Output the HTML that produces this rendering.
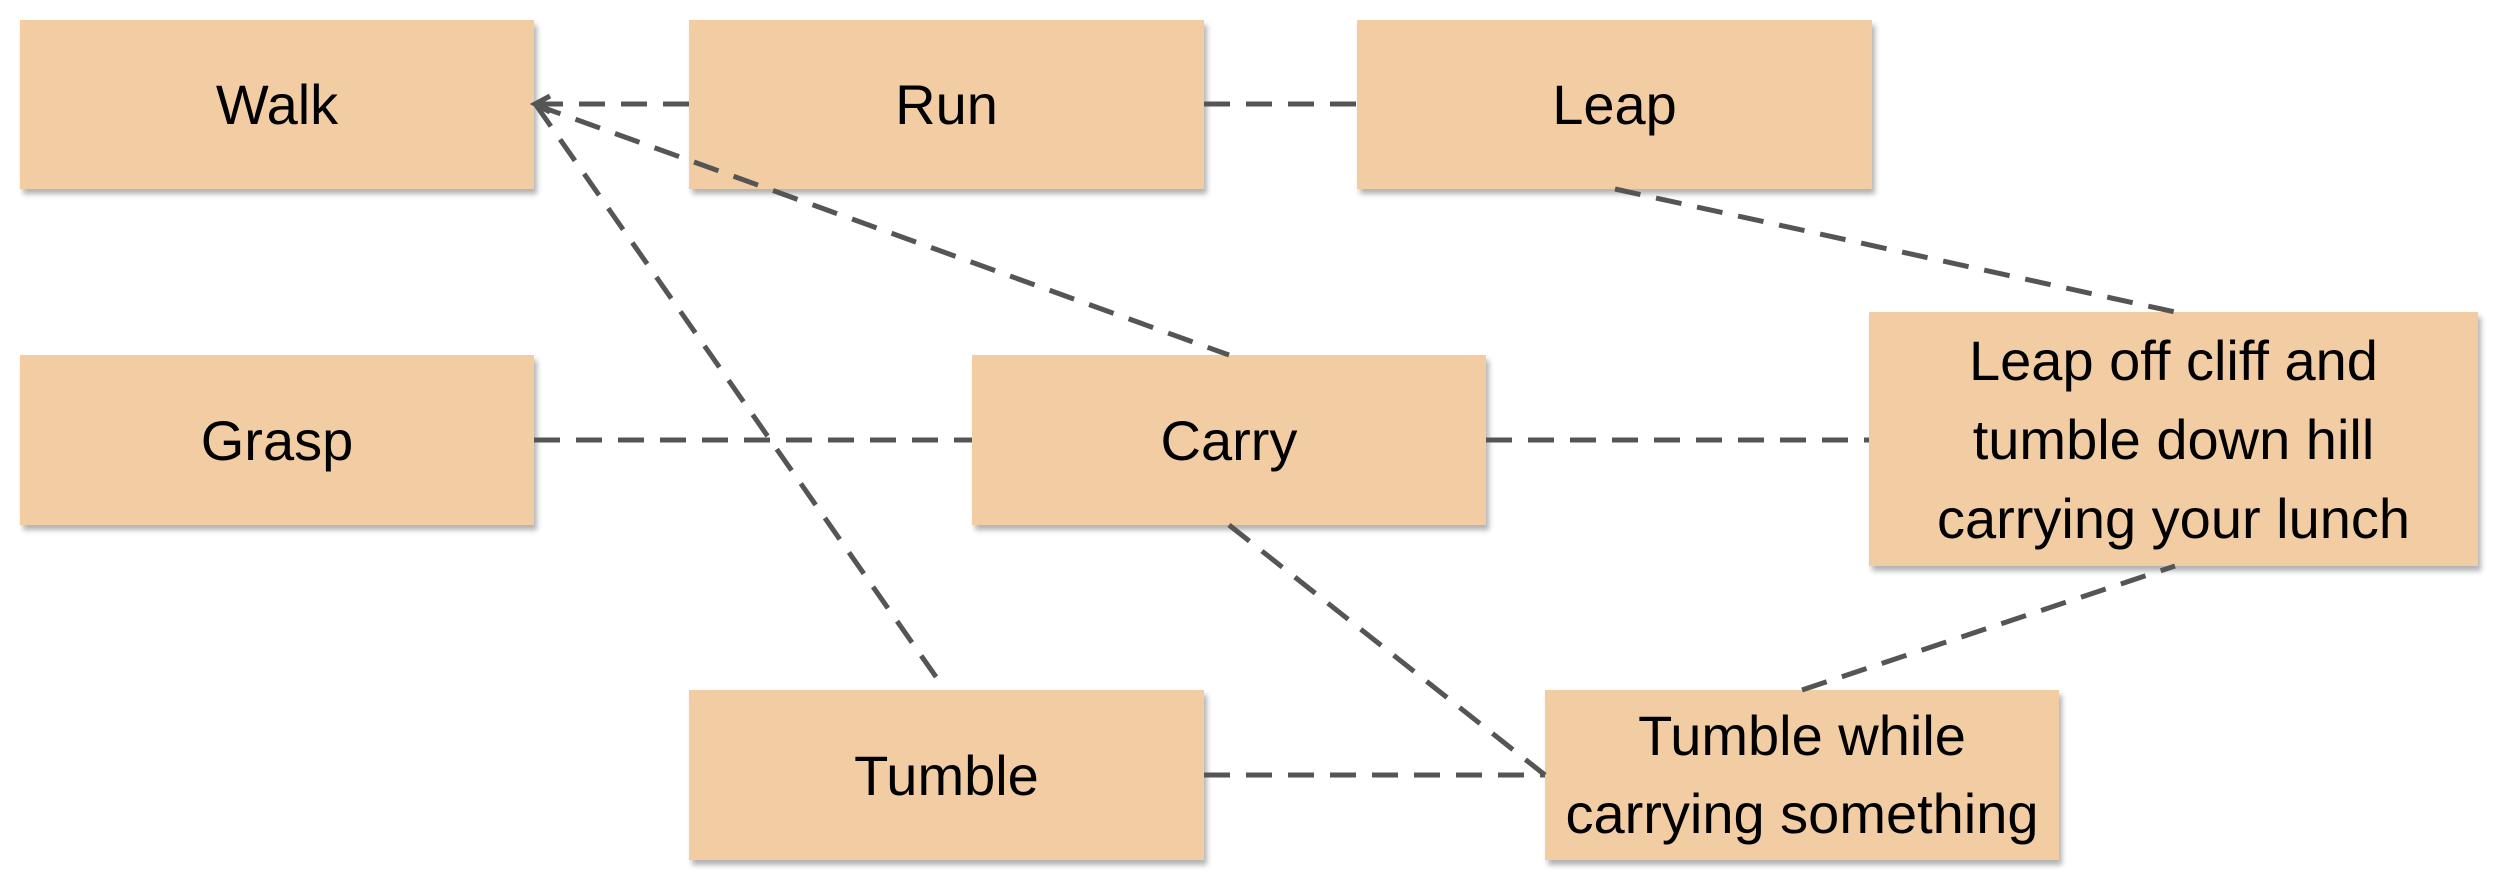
<!DOCTYPE html>
<html><head><meta charset="utf-8"><style>
html,body{margin:0;padding:0;background:#fff;}
#c{position:relative;width:2500px;height:886px;overflow:hidden;}
.b{position:absolute;background:#f2cca2;box-shadow:3px 5px 5px rgba(0,0,0,0.3);display:flex;align-items:center;justify-content:center;text-align:center;font-family:"Liberation Sans Narrow","Liberation Sans",sans-serif;font-size:56px;color:#000;line-height:79px;}
svg{position:absolute;left:0;top:0;}
</style></head><body><div id="c">
<div class="b" style="left:20px;top:20px;width:514px;height:169px">Walk</div>
<div class="b" style="left:689px;top:20px;width:515px;height:169px">Run</div>
<div class="b" style="left:1357px;top:20px;width:515px;height:169px">Leap</div>
<div class="b" style="left:20px;top:355px;width:514px;height:170px">Grasp</div>
<div class="b" style="left:972px;top:355px;width:514px;height:170px">Carry</div>
<div class="b" style="left:1869px;top:312px;width:609px;height:254px">Leap off cliff and<br>tumble down hill<br>carrying your lunch</div>
<div class="b" style="left:689px;top:690px;width:515px;height:170px">Tumble</div>
<div class="b" style="left:1545px;top:690px;width:514px;height:170px;line-height:78px">Tumble while<br>carrying something</div>
<svg width="2500" height="886" viewBox="0 0 2500 886">
<g stroke="#555" stroke-width="5" stroke-dasharray="26,16" fill="none">
<line x1="689" y1="104" x2="536" y2="104"/>
<line x1="1204" y1="104" x2="1357" y2="104"/>
<line x1="536" y1="105" x2="1229" y2="355"/>
<line x1="536" y1="105" x2="941" y2="684"/>
<line x1="534" y1="440" x2="972" y2="440"/>
<line x1="1615" y1="189" x2="2175" y2="312"/>
<line x1="1486" y1="440" x2="1869" y2="440"/>
<line x1="1229" y1="525" x2="1545" y2="775"/>
<line x1="1204" y1="775" x2="1545" y2="775"/>
<line x1="1802" y1="690" x2="2175" y2="566"/>
</g>
<polyline points="550,96 535,104 550,112" stroke="#555" stroke-width="5" fill="none"/>
</svg>
</div></body></html>
